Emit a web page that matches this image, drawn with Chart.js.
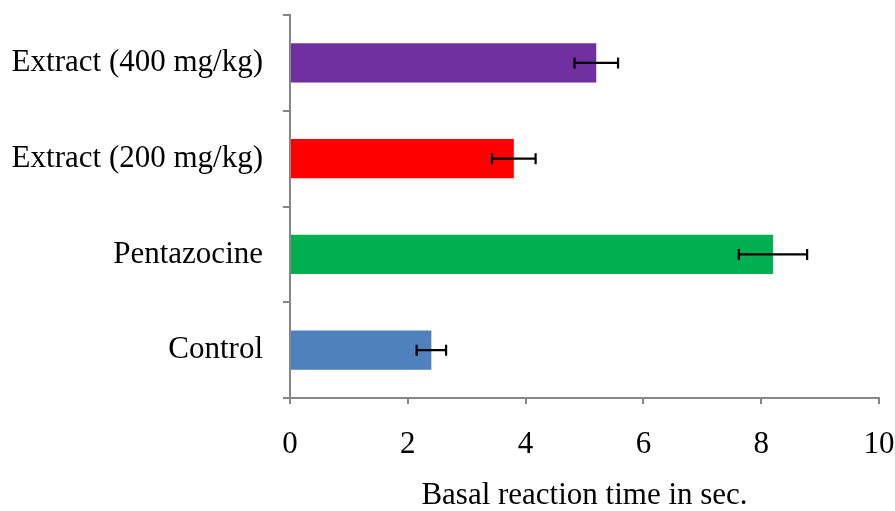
<!DOCTYPE html>
<html>
<head>
<meta charset="utf-8">
<script src="https://cdn.jsdelivr.net/npm/chart.js@4/dist/chart.umd.min.js"></script>
<style>
html,body{margin:0;padding:0;background:#fff;}
#wrap{width:895px;height:511px;}
</style>
</head>
<body>
<div id="wrap"><canvas id="c" width="895" height="511"></canvas></div>
<script>
const categories = ['Extract (400 mg/kg)', 'Extract (200 mg/kg)', 'Pentazocine', 'Control'];
const values = [5.2, 3.8, 8.2, 2.4];
const errors = [0.37, 0.37, 0.58, 0.25];
const barColors = ['#7030A0', '#FF0000', '#00B050', '#4F81BD'];
const xTicks = [0, 2, 4, 6, 8, 10];
const xTitle = 'Basal reaction time in sec.';

const errorBarPlugin = {
  id: 'errorBars',
  afterDatasetsDraw(chart) {
    const ctx = chart.ctx;
    const xs = chart.scales.x;
    const meta = chart.getDatasetMeta(0);
    ctx.save();
    ctx.strokeStyle = '#000';
    ctx.lineWidth = 2.2;
    meta.data.forEach((bar, i) => {
      const y = bar.y;
      const x1 = xs.getPixelForValue(values[i] - errors[i]);
      const x2 = xs.getPixelForValue(values[i] + errors[i]);
      ctx.beginPath();
      ctx.moveTo(x1, y); ctx.lineTo(x2, y);
      ctx.moveTo(x1, y - 5.5); ctx.lineTo(x1, y + 5.5);
      ctx.moveTo(x2, y - 5.5); ctx.lineTo(x2, y + 5.5);
      ctx.stroke();
    });
    ctx.restore();
  }
};

const fam = '"Liberation Serif", "Times New Roman", serif';
const tickFont = {family: fam, size: 31, lineHeight: 1};
const titleFont = {family: fam, size: 31, lineHeight: 1};

new Chart(document.getElementById('c'), {
  type: 'bar',
  data: {
    labels: categories,
    datasets: [{
      data: values,
      backgroundColor: barColors,
      borderWidth: 0,
      categoryPercentage: 1,
      barPercentage: 0.41
    }]
  },
  options: {
    indexAxis: 'y',
    responsive: false,
    animation: false,
    layout: {padding: {top: 15, right: 16, left: 0, bottom: 0}},
    plugins: {legend: {display: false}, tooltip: {enabled: false}},
    scales: {
      x: {
        min: 0, max: 10,
        afterBuildTicks(axis) { axis.ticks = xTicks.map(v => ({value: v})); },
        afterFit(scale) { scale.height = 113; scale.paddingLeft = 0; scale.paddingRight = 0; },
        grid: {drawOnChartArea: false, drawTicks: true, tickLength: 6, color: '#868686', lineWidth: 2},
        border: {color: '#868686', width: 2},
        ticks: {color: '#000', font: tickFont, padding: 25, maxRotation: 0},
        title: {display: true, text: xTitle, color: '#000', font: titleFont, padding: {top: 10, bottom: 0}}
      },
      y: {
        offset: true,
        afterFit(scale) { scale.width = 290; scale.paddingTop = 0; scale.paddingBottom = 0; },
        grid: {drawOnChartArea: false, drawTicks: true, tickLength: 7, color: '#868686', lineWidth: 2, offset: true},
        border: {color: '#868686', width: 2},
        ticks: {color: '#000', font: tickFont, padding: 20}
      }
    }
  },
  plugins: [errorBarPlugin]
});
</script>
</body>
</html>
